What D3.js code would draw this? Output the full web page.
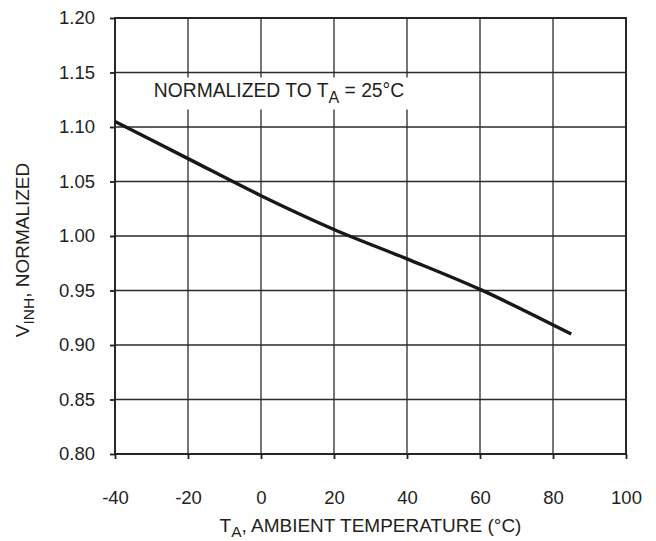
<!DOCTYPE html>
<html>
<head>
<meta charset="utf-8">
<script src="https://cdn.jsdelivr.net/npm/d3@7"></script>
<style>
  body { margin: 0; background: white; }
  text { font-family: "Liberation Sans", Arial, sans-serif; fill: #231f20; }
</style>
</head>
<body>
<div id="chart"></div>
<script>
var temps = [-40, -20, 0, 20, 40, 60, 85];
var vinh = [1.105, 1.071, 1.037, 1.006, 0.979, 0.951, 0.910];
var xTicks = [-40, -20, 0, 20, 40, 60, 80, 100];
var yTicks = [0.80, 0.85, 0.90, 0.95, 1.00, 1.05, 1.10, 1.15, 1.20];

var w = 656;
var h = 541;
var margin = { top: 18, right: 30, bottom: 87, left: 115 };
var pw = w - margin.left - margin.right;
var ph = h - margin.top - margin.bottom;

var svg = d3.select("#chart")
  .append("svg")
  .attr("width", w)
  .attr("height", h);

var g = svg.append("g")
  .attr("transform", "translate(" + margin.left + "," + margin.top + ")");

var xScale = d3.scaleLinear()
  .domain([-40, 100])
  .range([0, pw]);

var yScale = d3.scaleLinear()
  .domain([0.80, 1.20])
  .range([ph, 0]);

// grid
g.selectAll("line.vgrid")
  .data(xTicks)
  .enter()
  .append("line")
  .attr("class", "vgrid")
  .attr("x1", function(d) { return xScale(d); })
  .attr("x2", function(d) { return xScale(d); })
  .attr("y1", 0)
  .attr("y2", ph)
  .attr("stroke", "#2b2b2b")
  .attr("stroke-width", 1.3);

g.selectAll("line.hgrid")
  .data(yTicks)
  .enter()
  .append("line")
  .attr("class", "hgrid")
  .attr("x1", 0)
  .attr("x2", pw)
  .attr("y1", function(d) { return yScale(d); })
  .attr("y2", function(d) { return yScale(d); })
  .attr("stroke", "#2b2b2b")
  .attr("stroke-width", 1.3);

// frame
g.append("rect")
  .attr("x", 0)
  .attr("y", 0)
  .attr("width", pw)
  .attr("height", ph)
  .attr("fill", "none")
  .attr("stroke", "#231f20")
  .attr("stroke-width", 1.8);

// axes
var xAxis = d3.axisBottom(xScale)
  .tickValues(xTicks)
  .tickSize(5)
  .tickPadding(32)
  .tickFormat(function(d) { return String(d); });

var yAxis = d3.axisLeft(yScale)
  .tickValues(yTicks)
  .tickSize(5)
  .tickPadding(15)
  .tickFormat(function(d) { return d.toFixed(2); });

var xg = g.append("g")
  .attr("transform", "translate(0," + ph + ")")
  .call(xAxis);

var yg = g.append("g")
  .call(yAxis);

[xg, yg].forEach(function(a) {
  a.select(".domain").remove();
  a.selectAll(".tick line")
    .attr("stroke", "#231f20")
    .attr("stroke-width", 1.8);
  a.selectAll(".tick text")
    .attr("fill", "#231f20")
    .style("font-size", "18.5px");
});

// note box
var note = g.append("g")
  .attr("transform", "translate(" + (xScale(-31)) + "," + (yScale(1.15) + 5) + ")");

note.append("rect")
  .attr("x", 0)
  .attr("y", 0)
  .attr("width", 282)
  .attr("height", 32)
  .attr("fill", "white");

var noteText = note.append("text")
  .attr("x", 6)
  .attr("y", 19)
  .style("font-size", "19.3px");
noteText.append("tspan").text("NORMALIZED TO T");
noteText.append("tspan").attr("dy", 6).style("font-size", "16px").text("A");
noteText.append("tspan").attr("dy", -6).text(" = 25\u00B0C");

// curve
var line = d3.line()
  .x(function(d, i) { return xScale(temps[i]); })
  .y(function(d) { return yScale(d); })
  .curve(d3.curveMonotoneX);

g.append("path")
  .datum(vinh)
  .attr("d", line)
  .attr("fill", "none")
  .attr("stroke", "#1a1718")
  .attr("stroke-width", 3.4);

// axis titles
var xTitle = svg.append("text")
  .attr("x", margin.left + pw / 2)
  .attr("y", 532)
  .attr("text-anchor", "middle")
  .style("font-size", "19px");
xTitle.append("tspan").text("T");
xTitle.append("tspan").attr("dy", 5).style("font-size", "15.5px").text("A");
xTitle.append("tspan").attr("dy", -5).text(", AMBIENT TEMPERATURE (\u00B0C)");

var yTitle = svg.append("text")
  .attr("transform", "translate(29," + 250 + ") rotate(-90)")
  .attr("text-anchor", "middle")
  .style("font-size", "19px");
yTitle.append("tspan").text("V");
yTitle.append("tspan").attr("dy", 5).style("font-size", "15.5px").text("INH");
yTitle.append("tspan").attr("dy", -5).text(", NORMALIZED");
</script>
</body>
</html>
